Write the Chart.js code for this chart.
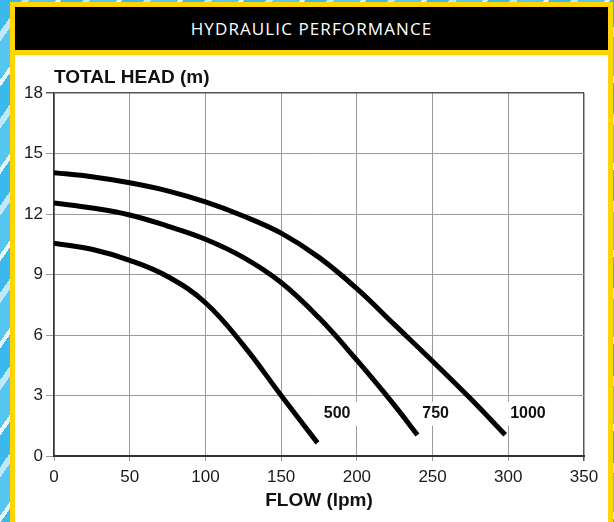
<!DOCTYPE html>
<html>
<head>
<meta charset="utf-8">
<script src="https://cdn.jsdelivr.net/npm/chart.js@4"></script>
<style>
  body { margin: 0; width: 614px; height: 522px; overflow: hidden; position: relative;
    background: repeating-linear-gradient(125deg, #3bb9ec 0 18px, #bfe9fb 18px 24px, #55c6f1 24px 46px, #e8f7fe 46px 50px); }
  #frame { position: absolute; left: 10px; top: 2px; width: 603px; height: 525px; box-sizing: border-box;
    border: 5px solid #ffd400; background: #fff; }
  #header { position: absolute; left: 0; top: 0; right: 0; height: 43px; background: #000;
    border-bottom: 5px solid #ffd400; color: #fff; text-align: center;
    font: 17px "Open Sans", sans-serif; line-height: 44px; letter-spacing: 1.1px; }
  #chart { position: absolute; left: 0; top: 0; }
</style>
</head>
<body>
<div id="frame"><div id="header">HYDRAULIC PERFORMANCE</div></div>
<canvas id="chart" width="614" height="522"></canvas>
<script>
// flow (lpm) vs total head (m)
var flow500 = [0, 25, 50, 75, 100, 125, 150, 174];
var head500 = [10.55, 10.25, 9.7, 8.9, 7.6, 5.5, 3.0, 0.65];
var flow750 = [0, 25, 50, 75, 100, 125, 150, 175, 200, 225, 240];
var head750 = [12.55, 12.3, 11.95, 11.4, 10.75, 9.85, 8.6, 6.85, 4.75, 2.5, 1.04];
var flow1000 = [0, 25, 50, 75, 100, 125, 150, 175, 200, 225, 250, 275, 298];
var head1000 = [14.05, 13.85, 13.55, 13.15, 12.6, 11.9, 11.05, 9.85, 8.3, 6.5, 4.7, 2.85, 1.05];

var curveNames = ['500', '750', '1000'];
var nameFlow = [187, 252, 313];
var nameHead = [2.1, 2.1, 2.1];

function pts(xs, ys) {
    return xs.map(function(x, i) { return {x: x, y: ys[i]}; });
}

var curveLabels = {
    id: 'curveLabels',
    afterDatasetsDraw: function(chart) {
        var c = chart.ctx, xs = chart.scales.x, ys = chart.scales.y;
        c.save();
        c.font = 'bold 16px "Liberation Sans", Arial, sans-serif';
        c.textBaseline = 'middle';
        c.textAlign = 'center';
        curveNames.forEach(function(t, i) {
            var px = xs.getPixelForValue(nameFlow[i]);
            var py = ys.getPixelForValue(nameHead[i]);
            var w = c.measureText(t).width;
            c.fillStyle = '#fff';
            c.fillRect(px - w / 2 - 3, py - 12, w + 14, 24);
            c.fillStyle = '#111';
            c.fillText(t, px, py);
        });
        // y axis title sits on top of the plot
        c.font = 'bold 19px "Liberation Sans", Arial, sans-serif';
        c.textAlign = 'left';
        c.textBaseline = 'alphabetic';
        c.fillText('TOTAL HEAD (m)', chart.chartArea.left, chart.chartArea.top - 10);
        c.restore();
    }
};

var tickFont = {family: '"Liberation Sans", Arial, sans-serif', size: 17};

new Chart(document.getElementById('chart'), {
    type: 'scatter',
    data: {
        datasets: [
            {label: '500', data: pts(flow500, head500)},
            {label: '750', data: pts(flow750, head750)},
            {label: '1000', data: pts(flow1000, head1000)}
        ].map(function(d) {
            d.showLine = true;
            d.borderColor = '#000';
            d.borderWidth = 5;
            d.pointRadius = 0;
            d.tension = 0.4;
            return d;
        })
    },
    options: {
        responsive: false,
        animation: false,
        devicePixelRatio: 1,
        layout: {padding: {top: 93, right: 30, left: 0, bottom: 0}},
        plugins: {legend: {display: false}, tooltip: {enabled: false}},
        scales: {
            x: {
                type: 'linear', min: 0, max: 350,
                afterFit: function(s) { s.height = 66; },
                ticks: {stepSize: 50, color: '#1a1a1a', font: tickFont, padding: 6},
                grid: {
                    color: function(ctx) { return ctx.tick && ctx.tick.value === 350 ? '#555' : '#9a9a9a'; },
                    lineWidth: function(ctx) { return ctx.tick && ctx.tick.value === 350 ? 1.5 : 1; },
                    tickLength: 5
                },
                border: {color: '#333', width: 2},
                title: {display: true, text: 'FLOW (lpm)', color: '#111',
                    font: {family: '"Liberation Sans", Arial, sans-serif', size: 19, weight: 'bold'},
                    padding: {top: 0, bottom: 10}}
            },
            y: {
                min: 0, max: 18,
                afterFit: function(s) { s.width = 54; },
                ticks: {stepSize: 3, color: '#1a1a1a', font: tickFont, padding: 3},
                grid: {
                    color: function(ctx) { return ctx.tick && ctx.tick.value === 18 ? '#555' : '#9a9a9a'; },
                    lineWidth: function(ctx) { return ctx.tick && ctx.tick.value === 18 ? 1.5 : 1; },
                    tickLength: 8
                },
                border: {color: '#333', width: 1.5}
            }
        }
    },
    plugins: [curveLabels]
});
</script>
</body>
</html>
